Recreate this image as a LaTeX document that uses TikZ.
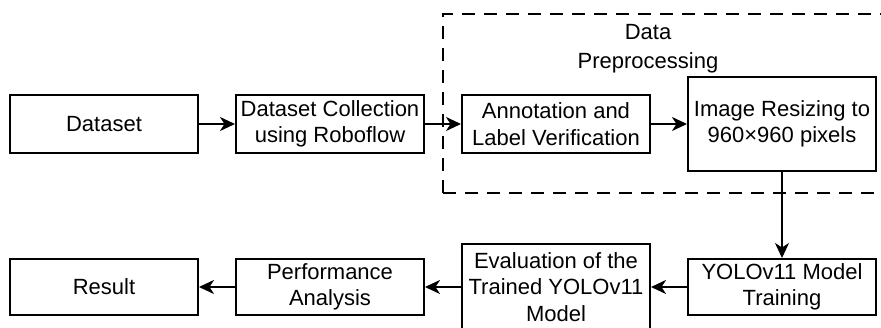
\documentclass[tikz,border=0pt]{standalone}
\usepackage{fontspec}
\setmainfont{Liberation Sans}
\usetikzlibrary{arrows.meta}
\begin{document}
\begin{tikzpicture}
\useasboundingbox (0pt,0pt) rectangle (881pt,-327pt);
\begin{scope}[x=1pt,y=-1pt,
  box/.style={draw=black, line width=2pt, minimum width=188pt, minimum height=58pt, inner sep=0pt, align=center, font=\fontsize{22}{26.5}\selectfont},
  flowarrow/.style={draw=black, line width=2pt, -{Stealth[length=15pt,width=14pt,inset=4.5pt]}},
  grp/.style={draw=black, dash pattern=on 13pt off 9pt, line width=2pt}]
\clip (0,0) rectangle (881,327);
\draw[grp] (443,193) -- (443,14) -- (900,14);
\draw[grp] (443,193) -- (900,193);
\node[font=\fontsize{22}{29}\selectfont, align=center] (lbl) at (648,49) {Data\\Preprocessing};
\node[box] (dataset) at (104,124) {Dataset};
\node[box] (collect) at (330,124) {Dataset Collection\\using Roboflow};
\node[box] (annot) at (556,124) {Annotation and\\Label Verification};
\node[box, minimum height=94pt] (resize) at (782,124) {Image Resizing to\\960×960 pixels};
\node[box, minimum height=56pt] (yolo) at (782,287) {YOLOv11 Model\\Training};
\node[box, minimum height=86pt] (eval) at (556,287) {Evaluation of the\\Trained YOLOv11\\Model};
\node[box, minimum height=56pt] (perf) at (330,287) {Performance\\Analysis};
\node[box, minimum height=56pt] (result) at (104,287) {Result};
\draw[flowarrow] (dataset.east) -- (collect.west);
\draw[flowarrow] (collect.east) -- (annot.west);
\draw[flowarrow] (annot.east) -- (annot -| resize.west);
\draw[flowarrow] (resize.south) -- (resize.south |- yolo.north);
\draw[flowarrow] (yolo.west) -- (eval.east);
\draw[flowarrow] (eval.west) -- (perf.east);
\draw[flowarrow] (perf.west) -- (result.east);
\end{scope}
\end{tikzpicture}
\end{document}
